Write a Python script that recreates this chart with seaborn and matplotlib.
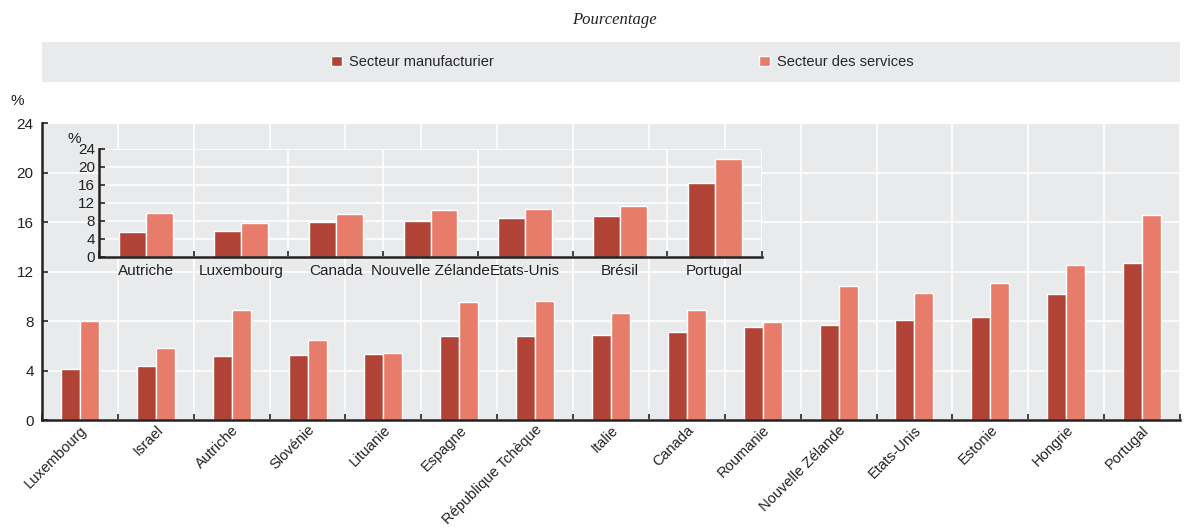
import numpy as np
import pandas as pd
import matplotlib
matplotlib.use("Agg")
import matplotlib.pyplot as plt
from matplotlib.patches import Patch
import seaborn as sns

sns.set_theme(style="white")
plt.rcParams["font.family"] = ["Liberation Sans", "DejaVu Sans"]

DARK = "#b04236"
LIGHT = "#e87c6b"
BG = "#e9eaec"
SERIES = ["Secteur manufacturier", "Secteur des services"]

pays = ["Luxembourg", "Israel", "Autriche", "Slovénie", "Lituanie", "Espagne",
        "République Tchèque", "Italie", "Canada", "Roumanie", "Nouvelle Zélande",
        "Etats-Unis", "Estonie", "Hongrie", "Portugal"]
manuf = [4.15, 4.35, 5.15, 5.25, 5.35, 6.8, 6.8, 6.9, 7.1, 7.55, 7.65, 8.1, 8.35, 10.2, 12.7]
services = [8.0, 5.85, 8.9, 6.5, 5.45, 9.5, 9.65, 8.65, 8.9, 7.9, 10.85, 10.3, 11.1, 12.55, 16.6]

pays_inset = ["Autriche", "Luxembourg", "Canada", "Nouvelle Zélande", "Etats-Unis",
              "Brésil", "Portugal"]
manuf_inset = [5.4, 5.65, 7.7, 8.0, 8.6, 9.0, 16.4]
services_inset = [9.7, 7.6, 9.4, 10.4, 10.6, 11.4, 21.8]

yticks = [0, 4, 8, 12, 16, 20, 24]


def long_df(cats, a, b):
    return pd.DataFrame({
        "pays": cats * 2,
        "valeur": a + b,
        "secteur": [SERIES[0]] * len(cats) + [SERIES[1]] * len(cats),
    })


def style_axes(ax, n, fs):
    ax.set_facecolor(BG)
    ax.set_ylim(0, 24)
    ax.set_xlim(-0.5, n - 0.5)
    ax.set_yticks(yticks)
    ax.set_xlabel("")
    ax.set_ylabel("")
    ax.set_xticks(np.arange(-0.5, n, 1), minor=True)
    ax.grid(True, axis="y", color="white", lw=1.2)
    ax.grid(True, axis="x", which="minor", color="white", lw=1.2)
    ax.set_axisbelow(True)
    for s in ["top", "right"]:
        ax.spines[s].set_visible(False)
    for s in ["left", "bottom"]:
        ax.spines[s].set_color("#222222")
        ax.spines[s].set_linewidth(1.8)
    ax.tick_params(axis="y", direction="in", length=4, width=1.2, color="#222222",
                   labelsize=fs, pad=6, left=True)
    ax.tick_params(axis="x", which="major", length=0, labelsize=fs)
    ax.tick_params(axis="x", which="minor", direction="in", length=4, width=1.2,
                   color="#222222", bottom=True)
    for lbl in ax.get_yticklabels() + ax.get_xticklabels():
        lbl.set_color("#222222")


fig = plt.figure(figsize=(11.84, 5.30), dpi=100)

# main chart
ax = fig.add_axes([0.0355, 0.2075, 0.9611, 0.5604])
sns.barplot(data=long_df(pays, manuf, services), x="pays", y="valeur", hue="secteur",
            hue_order=SERIES, palette=[DARK, LIGHT], width=0.5, saturation=1,
            ax=ax, legend=False)
style_axes(ax, len(pays), 11)
ax.set_xticks(range(len(pays)))
ax.set_xticklabels(pays, rotation=45, ha="right", rotation_mode="anchor", fontsize=10.5)
ax.tick_params(axis="x", which="major", pad=2)
ax.text(-0.022, 1.06, "%", transform=ax.transAxes, fontsize=11, color="#222222",
        ha="center")

# inset chart
ins = fig.add_axes([0.0836, 0.5157, 0.56, 0.2032])
sns.barplot(data=long_df(pays_inset, manuf_inset, services_inset), x="pays", y="valeur",
            hue="secteur", hue_order=SERIES, palette=[DARK, LIGHT], width=0.57,
            saturation=1, ax=ins, legend=False)
style_axes(ins, len(pays_inset), 11)
ins.tick_params(axis="y", pad=3)
ins.tick_params(axis="x", which="major", pad=5)
ins.text(-0.038, 1.06, "%", transform=ins.transAxes, fontsize=11, color="#222222",
         ha="center")

# legend band
lax = fig.add_axes([0.0355, 0.8453, 0.9611, 0.0755])
lax.set_facecolor(BG)
lax.set_xticks([])
lax.set_yticks([])
for s in lax.spines.values():
    s.set_visible(False)
handles = [Patch(facecolor=DARK), Patch(facecolor=LIGHT)]
lax.legend(handles, SERIES, ncol=2, loc="center", frameon=False, fontsize=10.5,
           handlelength=0.75, handleheight=0.75, handletextpad=0.5,
           columnspacing=18.2, bbox_to_anchor=(0.51, 0.5))

fig.text(0.519, 0.962, "Pourcentage", ha="center", va="center", fontsize=12,
         style="italic", family=["Liberation Serif", "DejaVu Serif"], color="#222222")

fig.savefig("out.png", dpi=100, facecolor="white")
